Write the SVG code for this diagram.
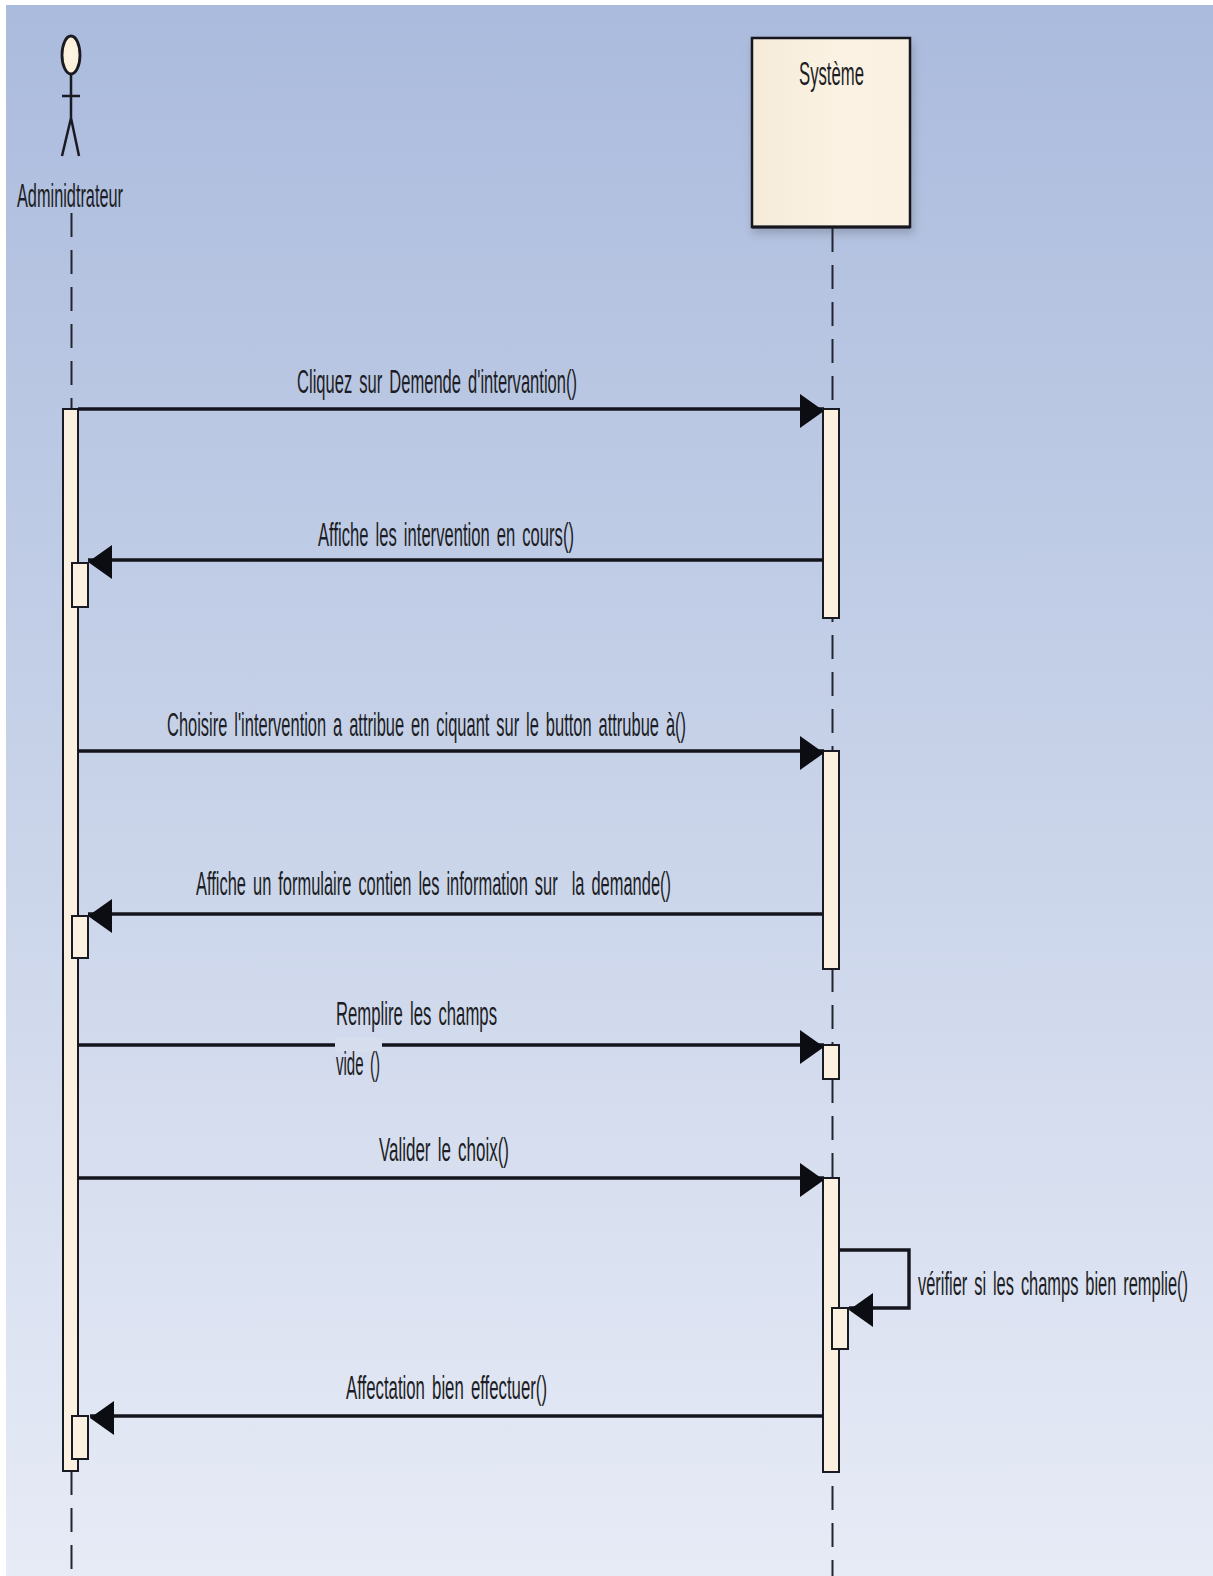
<svg xmlns="http://www.w3.org/2000/svg" width="1213" height="1576" viewBox="0 0 1213 1576">
<style>
.bar{fill:#fcf1e0;stroke:#1a1a22;stroke-width:2}
.life{stroke:#22242e;stroke-width:2;stroke-dasharray:24 13;fill:none}
.msg{stroke:#14151c;stroke-width:3.4;fill:none}
.r{marker-end:url(#tipR)}
.l{marker-end:url(#tipL)}
text{font-family:"Liberation Sans",Arial,sans-serif;font-size:34px;fill:#1c1d24;word-spacing:5px}
text.tall{font-size:18px;word-spacing:2.6px}
</style>
<defs>
<linearGradient id="bg" x1="0" y1="0" x2="0" y2="1"><stop offset="0" stop-color="#abbbdd"/><stop offset="0.5" stop-color="#c8d3e9"/><stop offset="1" stop-color="#e7ebf6"/></linearGradient>
<linearGradient id="box" x1="0" y1="0" x2="1" y2="0"><stop offset="0" stop-color="#f6ebd9"/><stop offset="0.55" stop-color="#fbf2e3"/><stop offset="1" stop-color="#fbf1e2"/></linearGradient>
<radialGradient id="head"><stop offset="0" stop-color="#fff6e6"/><stop offset="1" stop-color="#fcefd8"/></radialGradient>
<filter id="soft" x="-20%" y="-20%" width="140%" height="140%"><feGaussianBlur stdDeviation="4"/></filter>
<marker id="tipR" markerUnits="userSpaceOnUse" markerWidth="26" markerHeight="36" refX="24" refY="15" orient="0"><polygon points="0,0 24,17 0,34" fill="#0c0d12"/></marker>
<marker id="tipL" markerUnits="userSpaceOnUse" markerWidth="26" markerHeight="36" refX="0" refY="15" orient="0"><polygon points="24,0 0,17 24,34" fill="#0c0d12"/></marker>
</defs>
<rect width="1213" height="1576" fill="#fff"/>
<rect x="6" y="5" width="1207" height="1571" fill="url(#bg)"/>
<g id="actor-administrateur">
<line class="life" x1="71.5" y1="213" x2="71.5" y2="1576"/>
<ellipse cx="71" cy="55" rx="9" ry="19" fill="url(#head)" stroke="#1a1b22" stroke-width="2.8"/>
<path d="M71 74V118M62 96H80M71 118L62 156M71 118L79 156" fill="none" stroke="#1a1b22" stroke-width="2.5"/>
<text x="17" y="207" textLength="106" lengthAdjust="spacingAndGlyphs">Adminidtrateur</text>
<rect class="bar" x="63" y="409" width="15" height="1062"/>
<rect class="bar" x="72" y="563" width="16" height="44"/>
<rect class="bar" x="72" y="916" width="16" height="42"/>
<rect class="bar" x="72" y="1416" width="16" height="43"/>
</g>
<g id="lifeline-systeme">
<rect x="752" y="42" width="162" height="192" fill="#7d869c" opacity="0.55" filter="url(#soft)"/>
<line class="life" x1="832.5" y1="228" x2="832.5" y2="1576"/>
<rect x="752" y="38" width="158" height="189" fill="url(#box)" stroke="#16171e" stroke-width="2.5"/>
<line x1="752" y1="227" x2="910" y2="227" stroke="#16171e" stroke-width="3"/>
<text x="799" y="85" textLength="65" lengthAdjust="spacingAndGlyphs">Système</text>
<rect class="bar" x="823" y="409" width="16" height="209"/>
<rect class="bar" x="823" y="751" width="16" height="218"/>
<rect class="bar" x="823" y="1045" width="16" height="34"/>
<rect class="bar" x="823" y="1178" width="16" height="294"/>
<rect class="bar" x="832" y="1308" width="16" height="41"/>
</g>
<g id="connectors">
<line class="msg r" x1="78" y1="409" x2="824" y2="409"/>
<line class="msg l" x1="823" y1="560" x2="88" y2="560"/>
<line class="msg r" x1="78" y1="751" x2="824" y2="751"/>
<line class="msg l" x1="823" y1="914" x2="88" y2="914"/>
<line class="msg r" x1="78" y1="1045" x2="824" y2="1045"/>
<line class="msg r" x1="78" y1="1178" x2="824" y2="1178"/>
<polyline class="msg l" points="839,1250 909,1250 909,1308 849,1308"/>
<line class="msg l" x1="823" y1="1416" x2="90" y2="1416"/>
</g>
<g id="labels">
<text x="297" y="393" textLength="280" lengthAdjust="spacingAndGlyphs">Cliquez sur Demende d'intervantion()</text>
<text x="318" y="546" textLength="256" lengthAdjust="spacingAndGlyphs">Affiche les intervention en cours()</text>
<text class="tall" transform="translate(167,736) scale(1,1.89)" textLength="519" lengthAdjust="spacingAndGlyphs">Choisire l'intervention a attribue en ciquant sur le button attrubue à()</text>
<text x="196" y="895" textLength="475" lengthAdjust="spacingAndGlyphs" xml:space="preserve">Affiche un formulaire contien les information sur  la demande()</text>
<rect x="335" y="1038" width="47" height="14" fill="#d6deee"/>
<text x="336" y="1025" textLength="161" lengthAdjust="spacingAndGlyphs">Remplire les champs</text>
<text x="336" y="1075" textLength="44" lengthAdjust="spacingAndGlyphs">vide ()</text>
<text x="379" y="1161" textLength="130" lengthAdjust="spacingAndGlyphs">Valider le choix()</text>
<text class="tall" transform="translate(918,1295) scale(1,1.89)" textLength="270" lengthAdjust="spacingAndGlyphs">vérifier si les champs bien remplie()</text>
<text x="346" y="1399" textLength="201" lengthAdjust="spacingAndGlyphs">Affectation bien effectuer()</text>
</g>
</svg>
